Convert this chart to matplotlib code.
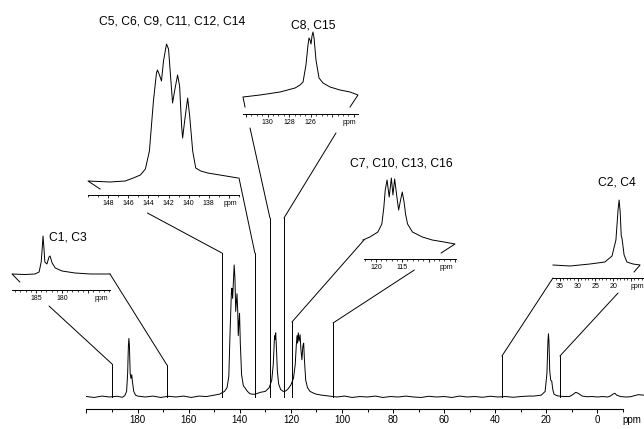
import matplotlib
matplotlib.use("Agg")
import matplotlib.pyplot as plt
from matplotlib.patches import ConnectionPatch
from matplotlib.ticker import FixedLocator, MultipleLocator

plt.rcParams['font.family'] = ['Liberation Sans', 'DejaVu Sans']

# main 13C spectrum (ppm, height above baseline)
main_ppm = [200, 197, 194, 191, 188, 186, 185, 184.3, 183.9, 183.6, 183.4, 183.2, 182.9, 182.6, 182.3,
            182.0, 181.5, 180.8, 180, 177, 174, 171, 168, 165, 162, 159, 156, 153, 150, 148, 146,
            145, 144.3, 143.8, 143.3, 143.1, 142.8, 142.5, 142.2, 141.9, 141.6, 141.3, 141.1, 140.8,
            140.6, 140.3, 140.1, 139.8, 139.3, 138.6, 138, 137, 136, 135, 134, 133, 132, 130, 128.5,
            127.5, 126.9, 126.5, 126.3, 126.15, 125.95, 125.7, 125.3, 124.8, 124, 123, 122, 121, 120,
            119, 118.3, 117.9, 117.6, 117.4, 117.1, 116.8, 116.4, 116.1, 115.7, 115.3, 115.0, 114.7,
            114.2, 113.5, 112.5, 111, 110, 108, 105, 102, 99, 96, 93, 90, 87, 84, 81, 78, 75, 72,
            69, 66, 63, 60, 57, 54, 51, 48, 45, 42, 39, 36, 33, 30, 27, 25, 22, 20.5, 19.8, 19.4,
            19.2, 19.0, 18.7, 18.3, 17.9, 17.5, 17, 16, 15, 13, 11, 10, 9, 8.5, 8, 7, 6, 4, 2, 0,
            -2, -4, -5, -6, -6.8, -7.5, -9, -11, -13, -14.5, -16, -18]
main_int = [0.5, -0.5, 1, 0, 0.8, -0.3, 1.5, 6, 25, 55, 63, 55, 25, 20, 24,
            16, 6, 2, 1, 0, 1, -0.5, 0.8, 0, 1, -0.5, 1, 0.5, 2, 3, 6,
            10, 22, 70, 112, 117, 106, 124, 142, 128, 92, 104, 111, 92,
            66, 82, 90, 58, 24, 12, 10, 6, 3.5, 3, 3, 4, 5, 6, 10,
            18, 35, 60, 66, 62, 69, 55, 28, 14, 8, 6, 6.5, 9, 13,
            20, 35, 55, 66, 58, 69, 60, 67, 52, 40, 55, 58, 40,
            18, 10, 6, 4, 3, 2, 1, 0, 1, -0.5, 0.5, 0, 1, -0.5, 0.5, 0, 1, 0,
            -0.5, 0.8, 0, 0.5, -0.5, 1, 0, 0.5, -0.3, 0.8, 0, 0.5, -0.3, 0.5, 1, 1, 2, 6, 25, 60,
            68, 60, 28, 18, 17, 8, 3, 1.5, 1, 0.5, 0.5, 2, 4, 5, 4.5, 3, 1, 0.3, 0.5, 0,
            0.5, 0, 1, 3, 4, 2, 0.5, 0, 0.3, 1.5, 2.5, 2]

# insets: trace points (ppm, height above the inset axis)
c1_ppm = [188.1, 189.6, 187.1, 185.2, 184.4, 184.0, 183.8, 183.65, 183.5, 183.3, 182.9, 182.5,
          182.3, 181.9, 181.3, 180, 177.5, 174.6, 170.8]
c1_int = [8, 16, 15.5, 16, 18, 28, 42, 54, 44, 28, 26, 33, 34, 27, 22, 19, 17, 16, 16]

c5_ppm = [148.8, 150, 147.8, 146.3, 145.5, 144.8, 144.3, 143.9, 143.5, 143.2, 143.1, 142.9, 142.7,
          142.5, 142.2, 142.0, 141.8, 141.6, 141.4, 141.1, 140.9, 140.7, 140.6, 140.4, 140.1, 139.9,
          139.6, 139.3, 138.8, 138.1, 136.9, 135.1]
c5_int = [6, 14, 13, 14, 17, 20, 26, 44, 94, 122, 125, 120, 114, 134, 151, 146, 119, 92, 104, 120,
          109, 69, 57, 74, 97, 79, 44, 27, 24, 22, 20, 17]

c8_ppm = [132.08, 132.27, 130.69, 128.84, 127.45, 126.99, 126.71, 126.44, 126.25, 126.16, 126.06,
          125.97, 125.88, 125.79, 125.69, 125.51, 125.23, 124.86, 124.21, 123.29, 122.36, 121.62, 122.36]
c8_int = [7, 17, 19, 22, 26, 29, 32, 49, 69, 76, 74, 70, 78, 82, 76, 54, 36, 31, 27, 24, 22, 19, 7]

c7_ppm = [122.44, 121.13, 119.62, 118.87, 118.5, 118.22, 117.88, 117.47, 117.06, 116.76, 116.44,
          116.06, 115.68, 115.31, 114.99, 114.65, 114.37, 113.99, 113.06, 111.18, 109.31, 107.05,
          104.99, 107.62]
c7_int = [19, 22, 27, 35, 51, 69, 79, 62, 81, 64, 80, 64, 49, 59, 67, 57, 45, 35, 27, 22, 19, 17,
          15, 6]

c2_ppm = [36.9, 32.1, 26.5, 22.3, 20.3, 19.2, 18.6, 18.3, 18.0, 17.7, 17.5, 16.9, 16.1, 14.4,
          12.4, 14.1]
c2_int = [13, 12, 14, 16, 22, 38, 68, 78, 66, 42, 40, 23, 16, 14, 13, 6]

W, H = 644, 429
fig = plt.figure(figsize=(W / 100, H / 100), dpi=100)


def box(left, axis_y, right, top):
    return [left / W, (H - axis_y) / H, (right - left) / W, (axis_y - top) / H]


lw = 0.7
base = 12      # baseline height above the main axis line
scale = 0.93
# main spectrum
ax = fig.add_axes(box(0, 409, W, 0))
ax.plot(main_ppm, [v * scale + base for v in main_int], color='black', lw=lw)
ax.set_xlim(233.85, -18.2)
ax.set_ylim(0, 409)
for s in ['top', 'left', 'right']:
    ax.spines[s].set_visible(False)
ax.spines['bottom'].set_bounds(-10, 200)
ax.spines['bottom'].set_linewidth(0.8)
ax.set_yticks([])
main_ticks = [200, 180, 160, 140, 120, 100, 80, 60, 40, 20, 0, -13.5]
main_labels = ['', '180', '160', '140', '120', '100', '80', '60', '40', '20', '0', 'ppm']
ax.xaxis.set_major_locator(FixedLocator(main_ticks))
ax.set_xticklabels(main_labels)
ax.xaxis.set_minor_locator(FixedLocator(list(range(190, -11, -10))))
ax.tick_params(axis='x', which='major', length=3.2, width=0.7, labelsize=7, pad=1)
ax.tick_params(axis='x', which='minor', length=2, width=0.7)
ax.xaxis.get_major_ticks()[-1].tick1line.set_visible(False)


def inset(rect, xlim, h, ppm, inten, major, labels, minor, ppm_pos):
    a = fig.add_axes(rect)
    a.plot(ppm, inten, color='black', lw=lw, clip_on=False)
    a.set_xlim(*xlim)
    a.set_ylim(0, h)
    for s in ['top', 'left', 'right']:
        a.spines[s].set_visible(False)
    a.spines['bottom'].set_linewidth(0.7)
    a.set_yticks([])
    a.xaxis.set_major_locator(FixedLocator(major + [ppm_pos]))
    a.set_xticklabels(labels + ['ppm'])
    a.xaxis.set_minor_locator(MultipleLocator(minor))
    a.tick_params(axis='x', which='major', length=2.5, width=0.6, labelsize=5, pad=1)
    a.tick_params(axis='x', which='minor', length=1.5, width=0.5)
    a.xaxis.get_major_ticks()[-1].tick1line.set_visible(False)
    a.patch.set_alpha(0)
    return a


a1 = inset(box(12, 290, 110, 230), (189.6, 170.8), 60, c1_ppm, c1_int,
           [185, 180, 175], ['185', '180', ''], 1, 172.5)
a5 = inset(box(88, 195, 239, 40), (150, 135.0), 155, c5_ppm, c5_int,
           [148, 146, 144, 142, 140, 138, 136], ['148', '146', '144', '142', '140', '138', ''], 1, 135.9)
a8 = inset(box(243, 114, 358, 30), (132.27, 121.62), 84, c8_ppm, c8_int,
           [132, 130, 128, 126, 124, 122], ['', '130', '128', '126', '', ''], 0.5, 122.45)
a7 = inset(box(364, 259, 456, 170), (122.25, 104.8), 89, c7_ppm, c7_int,
           [120, 115, 110, 105], ['120', '115', '', ''], 1, 106.7)
a2 = inset(box(553, 278, 644, 198), (36.9, 11.3), 80, c2_ppm, c2_int,
           [35, 30, 25, 20, 15], ['35', '30', '25', '20', ''], 1, 13.3)

fs = 8.7
fig.text(172 / W, 1 - 21 / H, 'C5, C6, C9, C11, C12, C14', fontsize=fs, ha='center', va='center')
fig.text(313 / W, 1 - 25 / H, 'C8, C15', fontsize=fs, ha='center', va='center')
fig.text(401 / W, 1 - 163 / H, 'C7, C10, C13, C16', fontsize=fs, ha='center', va='center')
fig.text(617 / W, 1 - 182 / H, 'C2, C4', fontsize=fs, ha='center', va='center')
fig.text(68 / W, 1 - 238 / H, 'C1, C3', fontsize=fs, ha='center', va='center')

# connector lines: inset point -> corner on main -> down to baseline
connectors = [
    (a1, (182.5, -16), 190.0, 45), (a1, (170.8, 16), 168.5, 44),
    (a5, (144.1, -18), 147.0, 156), (a5, (135.0, 17), 134.1, 156),
    (a8, (131.62, -14), 128.2, 191), (a8, (123.66, -19), 122.7, 191),
    (a7, (122.25, 19), 119.6, 87), (a7, (112.7, -11), 103.5, 86),
    (a2, (36.9, 0), 37.4, 53), (a2, (18.6, -15), 14.7, 53),
]
for a, start, x_main, y_corner in connectors:
    con = ConnectionPatch(xyA=start, coordsA=a.transData, xyB=(x_main, y_corner),
                          coordsB=ax.transData, color='black', lw=lw)
    fig.add_artist(con)
    ax.plot([x_main, x_main], [y_corner, base], color='black', lw=lw)

fig.savefig('out.png', dpi=100)
